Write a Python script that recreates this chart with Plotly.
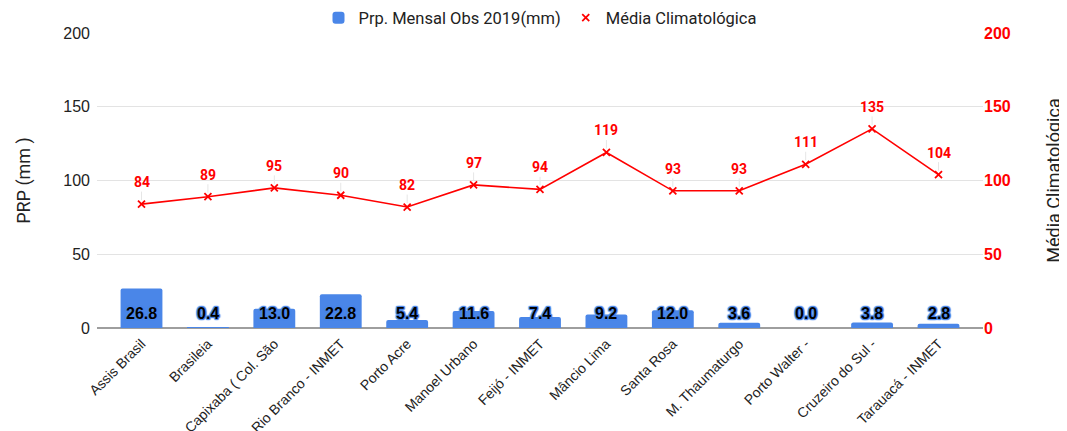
import plotly.graph_objects as go

categories = ["Assis Brasil", "Brasileia", "Capixaba ( Col. São", "Rio Branco - INMET",
              "Porto Acre", "Manoel Urbano", "Feijó - INMET", "Mâncio Lima", "Santa Rosa",
              "M. Thaumaturgo", "Porto Walter -", "Cruzeiro do Sul -", "Tarauacá - INMET"]
obs_2019 = [26.8, 0.4, 13.0, 22.8, 5.4, 11.6, 7.4, 9.2, 12.0, 3.6, 0.0, 3.8, 2.8]
media_clim = [84, 89, 95, 90, 82, 97, 94, 119, 93, 93, 111, 135, 104]
y_ticks = [0, 50, 100, 150, 200]

BLUE = "#4a86e8"
RED = "#ff0000"

# The page body has an 8px margin; size the figure so it fills the rest of the window.
W, H = 1059, 423

fig = go.Figure()
fig.add_trace(go.Bar(
    x=categories, y=obs_2019, name="Prp. Mensal Obs 2019(mm)",
    marker=dict(color=BLUE, line=dict(width=0), cornerradius=2),
    width=0.63, yaxis="y",
))
fig.add_trace(go.Scatter(
    x=categories, y=media_clim, name="Média Climatológica", yaxis="y2",
    mode="lines", showlegend=False,
    line=dict(color=RED, width=1.6),
))
fig.add_trace(go.Scatter(
    x=categories, y=media_clim, name="Média Climatológica", yaxis="y2",
    mode="markers",
    marker=dict(symbol="x-thin", size=7, color=RED, line=dict(color=RED, width=1.8)),
))

annotations = []
shadow = ", ".join(f"{dx}px {dy}px 1px {BLUE}" for dx in (-1, 0, 1) for dy in (-1, 0, 1) if dx or dy)
for c, v in zip(categories, obs_2019):
    annotations.append(dict(
        x=c, y=0, xref="x", yref="y", yshift=15, yanchor="middle", showarrow=False,
        text=f"{v:.1f}",
        font=dict(family="Liberation Sans, Arial", size=16, color="#000000", weight="bold",
                  shadow=shadow),
    ))
for c, v in zip(categories, media_clim):
    annotations.append(dict(
        x=c, y=v, xref="x", yref="y2", showarrow=True, ax=0, ay=-22,
        arrowhead=0, arrowwidth=1, arrowcolor="#e6e6e6", standoff=4, startstandoff=0,
        text=str(v),
        font=dict(family="Roboto, Liberation Sans, Arial", size=14, color=RED, weight="bold"),
    ))

fig.update_layout(
    width=W, height=H,
    margin=dict(l=89, r=84, t=25, b=103, autoexpand=False),
    paper_bgcolor="white", plot_bgcolor="white",
    showlegend=True,
    legend=dict(orientation="h", x=(540 - 8) / W, xanchor="center", xref="container",
                y=1 - 10 / H, yanchor="middle", yref="container",
                font=dict(family="Roboto, Liberation Sans, Arial", size=16.5, color="#222222"),
                traceorder="normal", itemwidth=30),
    xaxis=dict(
        tickangle=-45, tickfont=dict(family="Liberation Sans, Arial", size=14, color="#222222"),
        ticklabelstandoff=4,
        showgrid=False, showline=False, ticks="", range=[-0.67, 12.67], automargin=False,
    ),
    yaxis=dict(
        range=[0, 200], tickvals=y_ticks, showgrid=True, gridcolor="#e3e3e3", gridwidth=1,
        zeroline=True, zerolinecolor="#9e9e9e", zerolinewidth=1.5,
        tickfont=dict(family="Liberation Sans, Arial", size=16, color="#222222"),
        ticklabelstandoff=6,
        title=dict(text="PRP (mm )", font=dict(family="Roboto, Liberation Sans, Arial", size=18, color="#222222"),
                   standoff=27),
        automargin=False, ticks="",
    ),
    yaxis2=dict(
        range=[0, 200], tickvals=y_ticks, overlaying="y", side="right", showgrid=False,
        zeroline=False,
        tickfont=dict(family="Liberation Sans, Arial", size=16, color=RED, weight="bold"),
        title=dict(text="Média Climatológica", font=dict(family="Roboto, Liberation Sans, Arial", size=18, color="#222222"),
                   standoff=37),
        automargin=False, ticks="",
    ),
    annotations=annotations,
)

fig.write_html("out.html")
